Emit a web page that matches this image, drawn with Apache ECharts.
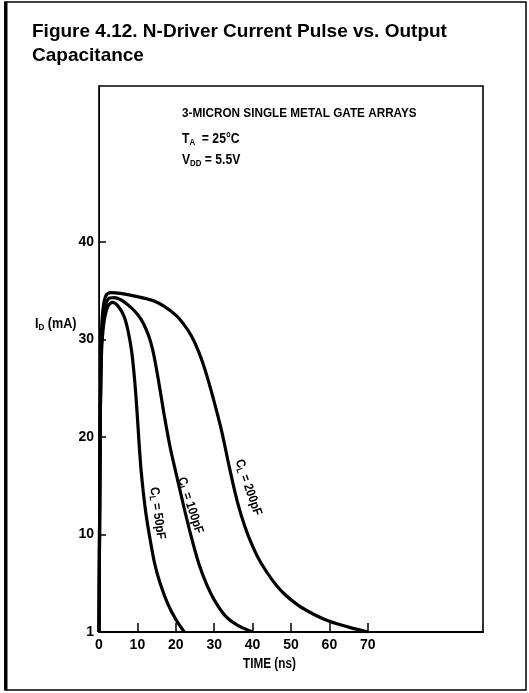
<!DOCTYPE html>
<html>
<head>
<meta charset="utf-8">
<script src="https://cdn.jsdelivr.net/npm/echarts@6/dist/echarts.min.js"></script>
<style>
html,body{margin:0;padding:0;background:#fff;}
#c{width:529px;height:693px;}
</style>
</head>
<body>
<div id="c"></div>
<script>
// ---- data (time in ns, current in mA) ----
const xTicks = [0, 10, 20, 30, 40, 50, 60, 70];
const yTicks = [0, 10, 20, 30, 40];
const yTickLabels = ['1', '10', '20', '30', '40'];

const c50Time = [0, 0.3, 0.6, 1.2, 2.2, 3.5, 5, 6.5, 7.5, 8.5, 9.2, 9.8, 10.4, 11, 12, 13, 14.5, 16, 18, 20, 22.2];
const c50Cur  = [0, 20, 28, 31.5, 33.3, 33.8, 33.4, 32.4, 31.0, 28.8, 26.2, 23.2, 19.6, 16.4, 12.8, 10.2, 7.0, 4.9, 2.8, 1.3, 0];

const c100Time = [0, 0.3, 0.6, 1.2, 2.5, 4, 6, 8, 10, 11.5, 13, 14, 15, 16, 17, 18.5, 20, 22, 24, 26, 28, 30, 33, 36, 40];
const c100Cur  = [0, 20, 29, 32.5, 34.2, 34.3, 34.0, 33.4, 32.6, 31.7, 30.3, 28.9, 26.9, 24.6, 22.2, 19.0, 16.4, 13.0, 9.8, 7.0, 4.9, 3.3, 1.6, 0.7, 0];

const c200Time = [0, 0.3, 0.6, 1.0, 1.8, 3, 6, 10, 14, 17, 20, 22, 24, 26, 28, 30, 32, 34, 36, 38, 40, 42, 45, 48, 52, 56, 60, 65, 70];
const c200Cur  = [0, 20, 30, 33, 34.5, 34.8, 34.7, 34.4, 34.0, 33.4, 32.5, 31.6, 30.4, 28.7, 26.4, 23.6, 20.5, 16.8, 13.4, 10.8, 8.8, 7.2, 5.4, 4.0, 2.7, 1.8, 1.1, 0.5, 0];

function pairs(t, v){ return t.map((x,i)=>[x, v[i]]); }

const FONT = '"Liberation Sans","Arial",sans-serif';
const SUBC = 0.87; // horizontal condensing of annotation texts

const chart = echarts.init(document.getElementById('c'), null, {renderer:'canvas'});

function curve(name, t, v){
  return {
    name: name, type: 'line', data: pairs(t, v), showSymbol: false,
    smooth: 0.3, lineStyle: {color:'#000', width: 3.2}, silent: true,
    z: 3
  };
}
function sub(main, s, rest, size){
  return {
    text: main + '{s|' + s + '}' + rest,
    font: 'bold ' + size + 'px ' + FONT, fill: '#000', verticalAlign: 'top',
    rich: {s: {font: 'bold ' + Math.round(size*0.66) + 'px ' + FONT, fill: '#000', padding: [Math.round(size*0.45),0,0,0]}}
  };
}

chart.setOption({
  backgroundColor: '#fff',
  animation: false,
  grid: {left: 99, right: 46, top: 86, bottom: 61, show: true, borderColor: '#000', borderWidth: 1.6, backgroundColor: 'transparent'},
  xAxis: {
    type: 'value', min: 0, max: 100, interval: 10,
    axisLine: {show: true, onZero: false, lineStyle: {color: '#000', width: 2}},
    axisTick: {show: true, inside: true, length: 9, customValues: xTicks, lineStyle: {color: '#000', width: 1.5}},
    axisLabel: {customValues: xTicks, color: '#000', fontFamily: FONT, fontWeight: 'bold', fontSize: 14, margin: 6},
    splitLine: {show: false}
  },
  yAxis: {
    type: 'value', min: 0, max: 56, interval: 10,
    axisLine: {show: true, onZero: false, lineStyle: {color: '#000', width: 1}},
    axisTick: {show: true, inside: true, length: 7, customValues: yTicks, lineStyle: {color: '#000', width: 1.5}},
    axisLabel: {customValues: yTicks, color: '#000', fontFamily: FONT, fontWeight: 'bold', fontSize: 14, margin: 5,
      formatter: function(v){ const i = yTicks.indexOf(v); return i >= 0 ? yTickLabels[i] : ''; }},
    splitLine: {show: false}
  },
  series: [
    curve('CL = 50pF', c50Time, c50Cur),
    curve('CL = 100pF', c100Time, c100Cur),
    curve('CL = 200pF', c200Time, c200Cur)
  ],
  graphic: [
    {type:'rect', shape:{x:5, y:2, width:521, height:688}, style:{fill:'none', stroke:'#000', lineWidth:1.5}, silent:true},
    {type:'rect', shape:{x:4, y:2, width:3.5, height:688}, style:{fill:'#000'}, silent:true},
    {type:'text', x: 32, y: 22, style:{text:'Figure 4.12. N-Driver Current Pulse vs. Output', font:'bold 19px ' + FONT, fill:'#000', verticalAlign:'top'}},
    {type:'text', x: 32, y: 46, style:{text:'Capacitance', font:'bold 19px ' + FONT, fill:'#000', verticalAlign:'top'}},
    {type:'text', x: 182, y: 106, scaleX: SUBC, style:{text:'3-MICRON SINGLE METAL GATE ARRAYS', font:'bold 13.5px ' + FONT, fill:'#000', verticalAlign:'top'}},
    {type:'text', x: 182, y: 132, scaleX: SUBC, style: sub('T', 'A', '  = 25°C', 14)},
    {type:'text', x: 182, y: 153, scaleX: SUBC, style: sub('V', 'DD', ' = 5.5V', 14)},
    {type:'text', x: 35, y: 317, scaleX: 0.9, style: sub('I', 'D', ' (mA)', 14)},
    {type:'text', x: 243, y: 657, scaleX: 0.84, style:{text:'TIME (ns)', font:'bold 14px ' + FONT, fill:'#000', verticalAlign:'top'}},
    {type:'group', x: 158, y: 514, rotation: -82*Math.PI/180, children:[
      {type:'text', x: -27, y: -7, scaleX: SUBC, style: sub('C', 'L', ' = 50pF', 13)}]},
    {type:'group', x: 191, y: 506, rotation: -72*Math.PI/180, children:[
      {type:'text', x: -30, y: -7, scaleX: SUBC, style: sub('C', 'L', ' = 100pF', 13)}]},
    {type:'group', x: 249, y: 488, rotation: -71*Math.PI/180, children:[
      {type:'text', x: -30, y: -7, scaleX: SUBC, style: sub('C', 'L', ' = 200pF', 13)}]}
  ]
});
</script>
</body>
</html>
